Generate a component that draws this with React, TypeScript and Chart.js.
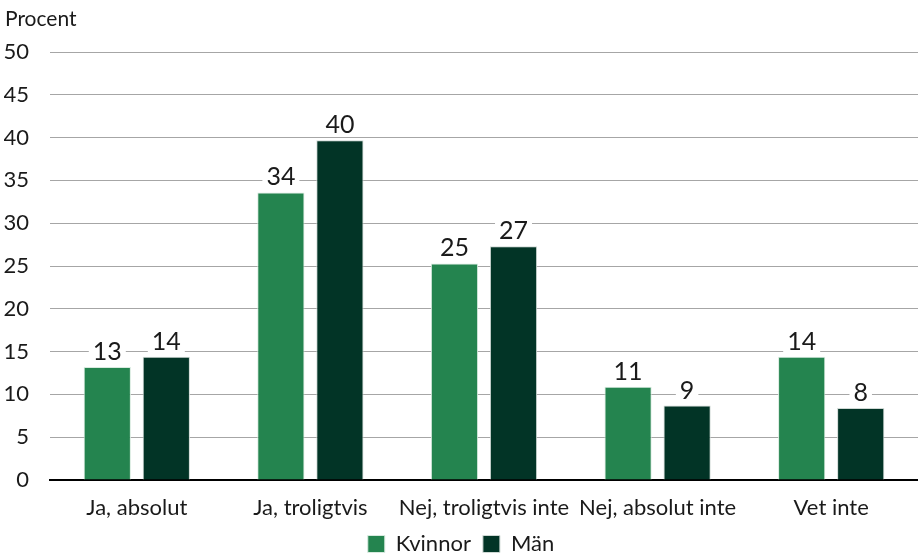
import React, { useEffect, useRef } from "react";
import { Chart, registerables } from "chart.js";

Chart.register(...registerables);

const categories = ["Ja, absolut", "Ja, troligtvis", "Nej, troligtvis inte", "Nej, absolut inte", "Vet inte"];
const kvinnor = [13.2, 33.6, 25.3, 10.9, 14.4];
const man = [14.4, 39.7, 27.3, 8.7, 8.4];
const yTicks = { min: 0, max: 50, step: 5 };

const FONT = "Lato, 'Open Sans', sans-serif";
const TEXT = "#1a1a1a";

const valueLabels = {
  id: "valueLabels",
  afterDatasetsDraw(chart: any) {
    const ctx = chart.ctx;
    ctx.save();
    ctx.font = `25px ${FONT}`;
    ctx.textAlign = "center";
    ctx.textBaseline = "middle";
    chart.data.datasets.forEach((ds: any, di: number) => {
      const meta = chart.getDatasetMeta(di);
      meta.data.forEach((bar: any, i: number) => {
        const txt = String(Math.round(ds.data[i]));
        const w = ctx.measureText(txt).width;
        const cy = bar.y - 16;
        ctx.fillStyle = "#ffffff";
        ctx.fillRect(bar.x - w / 2 - 4, cy - 12, w + 8, 24);
        ctx.fillStyle = TEXT;
        ctx.fillText(txt, bar.x, cy + 1);
      });
    });
    ctx.restore();
  },
};

const unitLabel = {
  id: "unitLabel",
  afterDraw(chart: any) {
    const ctx = chart.ctx;
    ctx.save();
    ctx.font = `21px ${FONT}`;
    ctx.fillStyle = TEXT;
    ctx.textAlign = "left";
    ctx.textBaseline = "middle";
    ctx.fillText("Procent", 5, 19);
    ctx.restore();
  },
};

export default function App() {
  const ref = useRef<HTMLCanvasElement | null>(null);

  useEffect(() => {
    document.body.style.margin = "0";
    const chart = new Chart(ref.current!, {
      type: "bar",
      data: {
        labels: categories,
        datasets: [
          {
            label: "Kvinnor",
            data: kvinnor,
            backgroundColor: "#24844f",
            borderColor: "#d8eadf",
            borderWidth: 1,
            categoryPercentage: 0.68,
            barPercentage: 0.8,
          },
          {
            label: "Män",
            data: man,
            backgroundColor: "#023426",
            borderColor: "#cfd8d4",
            borderWidth: 1,
            categoryPercentage: 0.68,
            barPercentage: 0.8,
          },
        ],
      },
      options: {
        responsive: false,
        animation: false,
        layout: { padding: { top: 52, right: 0, left: 4, bottom: -10 } },
        plugins: {
          legend: {
            position: "bottom",
            labels: {
              font: { family: FONT, size: 22 },
              color: TEXT,
              boxWidth: 17,
              boxHeight: 17,
              padding: 12,
            },
          },
          tooltip: { enabled: false },
        },
        scales: {
          x: {
            grid: { display: false, drawTicks: false },
            border: { color: "#000000", width: 2 },
            ticks: { font: { family: FONT, size: 22 }, color: TEXT, padding: 15, maxRotation: 0, autoSkip: false },
            afterFit: (scale: any) => {
              scale.height = 41;
            },
          },
          y: {
            min: yTicks.min,
            max: yTicks.max,
            ticks: { stepSize: yTicks.step, font: { family: FONT, size: 22 }, color: TEXT, padding: 21 },
            grid: { color: "#a6a6a6", lineWidth: 1, drawTicks: false },
            border: { display: false },
            afterFit: (scale: any) => {
              scale.width = 46;
            },
          },
        },
      },
      plugins: [valueLabels, unitLabel],
    });
    return () => chart.destroy();
  }, []);

  return <canvas ref={ref} width={918} height={555} />;
}
